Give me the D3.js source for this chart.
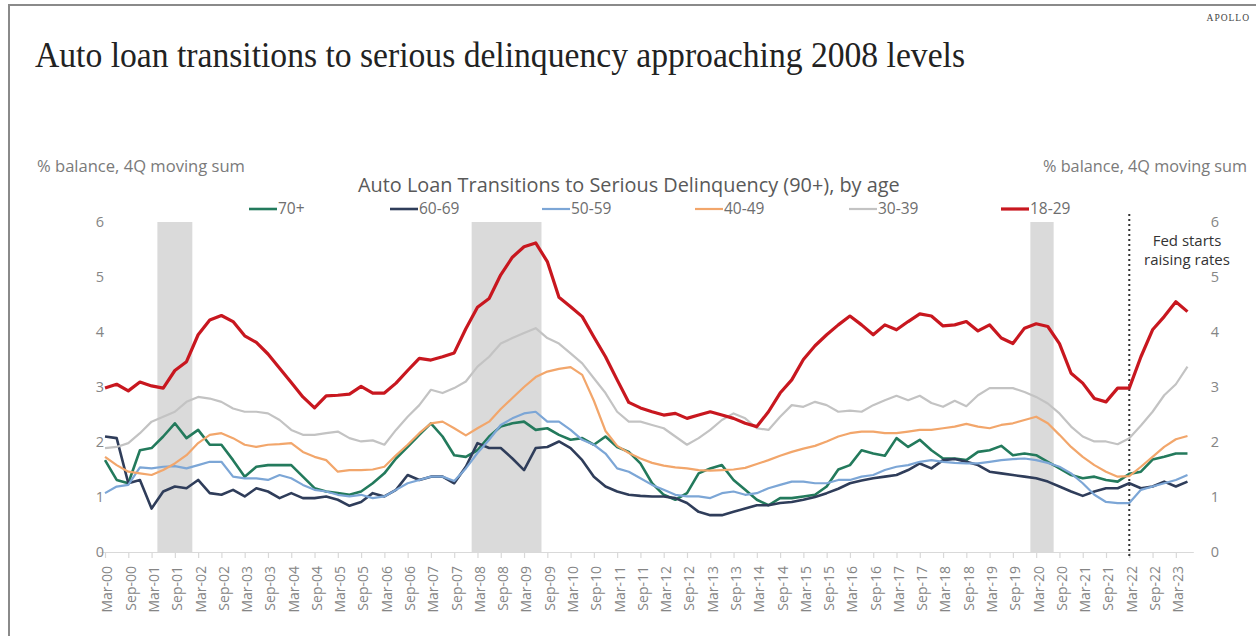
<!DOCTYPE html>
<html>
<head>
<meta charset="utf-8">
<script src="https://cdn.jsdelivr.net/npm/d3@7"></script>
<style>
  html, body { margin: 0; padding: 0; background: #ffffff; }
  svg { display: block; }
</style>
</head>
<body>
<svg id="chart" width="1256" height="636"></svg>
<script>
// ---- Categories: quarterly observations, Q1 2000 through Q2 2023 ----
const months = ["Mar", "Jun", "Sep", "Dec"];
const quarters = [];
for (let yr = 2000; yr <= 2023; yr++) {
  for (const m of months) {
    quarters.push(m + "-" + String(yr % 100).padStart(2, "0"));
  }
}
quarters.length = 94;

// ---- Series: % of balance transitioning into 90+ delinquency, 4Q moving sum ----
const age70plus = [1.67,1.31,1.25,1.85,1.89,2.10,2.34,2.07,2.22,1.95, 1.95,1.67,1.37,1.55,1.58,1.58,1.58,1.37,1.16,1.10,
  1.07,1.04,1.10,1.25,1.43,1.70,1.91,2.13,2.34,2.10, 1.76,1.73,1.85,2.10,2.28,2.34,2.37,2.22,2.25,2.13,
  2.04,2.07,1.95,2.10,1.91,1.82,1.61,1.25,1.04,0.95, 1.07,1.43,1.52,1.58,1.31,1.13,0.95,0.85,0.98,0.98,
  1.01,1.04,1.19,1.50,1.58,1.85,1.79,1.75,2.07,1.91, 2.04,1.85,1.70,1.70,1.67,1.82,1.85,1.93,1.76,1.79,
  1.76,1.64,1.52,1.40,1.34,1.37,1.31,1.28,1.42,1.46, 1.68,1.73,1.79,1.79];
const age60to69 = [2.10,2.07,1.25,1.31,0.79,1.10,1.19,1.16,1.31,1.07, 1.04,1.13,1.01,1.16,1.10,0.98,1.07,0.98,0.98,1.01,
  0.95,0.84,0.91,1.07,1.01,1.13,1.40,1.31,1.37,1.37, 1.25,1.55,1.98,1.89,1.89,1.70,1.49,1.89,1.91,2.01,
  1.89,1.67,1.37,1.19,1.10,1.04,1.02,1.01,1.01,0.98, 0.89,0.73,0.67,0.67,0.73,0.79,0.85,0.85,0.89,0.91,
  0.95,1.00,1.07,1.15,1.25,1.30,1.34,1.37,1.40,1.49, 1.61,1.52,1.67,1.69,1.64,1.58,1.46,1.43,1.40,1.37,
  1.34,1.28,1.19,1.10,1.02,1.10,1.16,1.16,1.25,1.16, 1.19,1.28,1.19,1.28];
const age50to59 = [1.07,1.19,1.22,1.54,1.52,1.55,1.56,1.52,1.58,1.64, 1.64,1.37,1.34,1.34,1.31,1.40,1.34,1.22,1.13,1.10,
  1.04,1.01,1.04,0.98,1.01,1.13,1.25,1.31,1.37,1.37, 1.29,1.52,1.80,2.04,2.31,2.43,2.52,2.55,2.37,2.37,
  2.22,2.04,1.95,1.79,1.52,1.46,1.34,1.22,1.13,1.04, 1.01,1.01,0.98,1.07,1.10,1.04,1.07,1.16,1.22,1.28,
  1.28,1.25,1.25,1.31,1.31,1.37,1.40,1.49,1.55,1.58, 1.64,1.67,1.64,1.62,1.61,1.61,1.64,1.67,1.69,1.70,
  1.67,1.62,1.55,1.43,1.25,1.04,0.91,0.89,0.89,1.13, 1.19,1.25,1.31,1.40];
const age40to49 = [1.73,1.58,1.46,1.43,1.40,1.49,1.61,1.76,1.98,2.13, 2.16,2.07,1.95,1.91,1.95,1.96,1.98,1.82,1.73,1.67,
  1.46,1.49,1.49,1.50,1.55,1.76,1.95,2.16,2.34,2.37, 2.25,2.12,2.25,2.37,2.60,2.80,3.00,3.18,3.28,3.33,
  3.36,3.22,2.75,2.20,1.93,1.80,1.70,1.62,1.57,1.54, 1.52,1.49,1.48,1.49,1.50,1.53,1.60,1.67,1.75,1.82,
  1.88,1.93,2.01,2.10,2.16,2.19,2.19,2.16,2.16,2.19, 2.22,2.22,2.25,2.28,2.33,2.28,2.25,2.31,2.34,2.40,
  2.46,2.34,2.13,1.91,1.73,1.58,1.46,1.37,1.38,1.55, 1.73,1.91,2.05,2.11];
const age30to39 = [1.89,1.91,1.98,2.16,2.37,2.46,2.55,2.73,2.82,2.79, 2.73,2.61,2.55,2.55,2.52,2.40,2.22,2.13,2.13,2.16,
  2.19,2.07,2.01,2.03,1.95,2.22,2.46,2.67,2.95,2.89, 2.98,3.10,3.37,3.55,3.79,3.89,3.98,4.07,3.89,3.79,
  3.61,3.43,3.16,2.89,2.55,2.37,2.37,2.31,2.25,2.10, 1.95,2.07,2.22,2.40,2.52,2.43,2.25,2.22,2.46,2.67,
  2.64,2.73,2.67,2.55,2.57,2.55,2.67,2.76,2.84,2.76, 2.84,2.71,2.64,2.75,2.65,2.85,2.98,2.98,2.98,2.91,
  2.82,2.70,2.52,2.28,2.10,2.01,2.01,1.96,2.07,2.30, 2.55,2.85,3.05,3.37];
const age18to29 = [2.98,3.05,2.93,3.09,3.02,2.98,3.30,3.46,3.95,4.22, 4.30,4.19,3.93,3.81,3.60,3.34,3.08,2.82,2.62,2.84,
  2.85,2.87,3.01,2.89,2.89,3.07,3.30,3.52,3.49,3.55, 3.62,4.06,4.45,4.61,5.04,5.36,5.55,5.62,5.28,4.63,
  4.46,4.28,3.91,3.55,3.13,2.72,2.62,2.55,2.49,2.52, 2.43,2.49,2.55,2.49,2.43,2.34,2.28,2.55,2.89,3.13,
  3.50,3.75,3.95,4.13,4.29,4.13,3.95,4.13,4.04,4.19, 4.33,4.29,4.11,4.13,4.19,4.02,4.13,3.89,3.79,4.07,
  4.15,4.10,3.79,3.25,3.07,2.79,2.73,2.98,2.98,3.55, 4.04,4.28,4.55,4.37];

const seriesNames = ["70+", "60-69", "50-59", "40-49", "30-39", "18-29"];
const seriesValues = [age70plus, age60to69, age50to59, age40to49, age30to39, age18to29];

// Axis ticks
const yTicks = [0, 1, 2, 3, 4, 5, 6];
const xTickLabels = quarters.filter((d, i) => i % 2 === 0);

// Recession periods (first and last quarter) and the first Fed hike
const recessions = [["Jun-01", "Dec-01"], ["Mar-08", "Jun-09"], ["Mar-20", "Jun-20"]];
const fedHikeQuarter = "Mar-22";

// ---- Styling ----
const seriesColors = ["#237a5c", "#2f3d5a", "#7ca6d6", "#f2a66b", "#c3c3c3", "#c8171f"];
const seriesWidths = [2.6, 2.6, 2.2, 2.2, 2.2, 3.2];
const legendX = [249, 390, 542, 695, 849, 1001];
const sansFont = "'Open Sans', 'Noto Sans', sans-serif";

const svg = d3.select("#chart");

const x = d3.scalePoint().domain(quarters).range([99.2, 1193.3]).padding(0.5);
const step = x.step();
const y = d3.scaleLinear().domain([0, 6]).range([552, 222]);

function fitWidth(sel, width) {
  const w = sel.node().getComputedTextLength();
  const fs = parseFloat(sel.attr("font-size"));
  sel.attr("font-size", (fs * width / w).toFixed(2));
}

// Frame edges
svg.append("line").attr("x1", 9).attr("x2", 1256).attr("y1", 5).attr("y2", 5)
  .attr("stroke", "#8a8a8a").attr("stroke-width", 2);
svg.append("line").attr("x1", 9).attr("x2", 9).attr("y1", 4).attr("y2", 636)
  .attr("stroke", "#8a8a8a").attr("stroke-width", 2);

// Headline: a tall, narrow serif setting
svg.append("text")
  .attr("x", 35).attr("y", 67)
  .attr("font-family", "'Liberation Serif', 'DejaVu Serif', serif")
  .attr("font-size", 35).attr("fill", "#222")
  .attr("textLength", 930).attr("lengthAdjust", "spacingAndGlyphs")
  .text("Auto loan transitions to serious delinquency approaching 2008 levels");

svg.append("text")
  .attr("x", 1250).attr("y", 21).attr("text-anchor", "end")
  .attr("font-family", "'Liberation Serif', serif")
  .attr("font-size", 9.5).attr("letter-spacing", 1).attr("fill", "#444")
  .text("APOLLO");

// Axis titles
const leftTitle = svg.append("text").attr("x", 37).attr("y", 172)
  .attr("font-family", sansFont).attr("font-size", 14).attr("fill", "#7a7a7a")
  .text("% balance, 4Q moving sum");
fitWidth(leftTitle, 208);
const rightTitle = svg.append("text").attr("x", 1043).attr("y", 172)
  .attr("font-family", sansFont).attr("font-size", 14).attr("fill", "#7a7a7a")
  .text("% balance, 4Q moving sum");
fitWidth(rightTitle, 204);

// Chart title
const chartTitle = svg.append("text").attr("x", 358).attr("y", 192)
  .attr("font-family", sansFont).attr("font-size", 17).attr("fill", "#595959")
  .text("Auto Loan Transitions to Serious Delinquency (90+), by age");
fitWidth(chartTitle, 542);

// Recession shading
svg.append("g").selectAll("rect").data(recessions).join("rect")
  .attr("x", d => x(d[0]) - step / 2)
  .attr("width", d => x(d[1]) - x(d[0]) + step)
  .attr("y", y(6)).attr("height", y(0) - y(6))
  .attr("fill", "#dadada");

// X axis
const xAxis = d3.axisBottom(x).tickValues(xTickLabels).tickSize(6).tickSizeOuter(0);
const gx = svg.append("g").attr("transform", `translate(0,${y(0)})`).call(xAxis);
gx.select(".domain").attr("stroke", "#d9d9d9").attr("stroke-width", 1.2);
gx.selectAll(".tick line").attr("stroke", "#d9d9d9").attr("stroke-width", 1.2);
gx.selectAll(".tick text")
  .attr("transform", "rotate(-90)")
  .attr("text-anchor", "end")
  .attr("x", -14).attr("y", 2).attr("dy", "0.35em")
  .attr("font-family", sansFont).attr("font-size", 14).attr("fill", "#858585");

// Y axes (left and right share the same scale)
function yAxisAt(xpos) {
  const g = svg.append("g").attr("transform", `translate(${xpos},0)`)
    .call(d3.axisLeft(y).tickValues(yTicks).tickFormat(d3.format("d")).tickSize(0).tickPadding(0));
  g.select(".domain").remove();
  g.selectAll(".tick text").attr("text-anchor", "middle")
    .attr("font-family", sansFont).attr("font-size", 14.5).attr("fill", "#858585");
}
yAxisAt(100);
yAxisAt(1215);

// Fed marker
svg.append("line")
  .attr("x1", x(fedHikeQuarter)).attr("x2", x(fedHikeQuarter))
  .attr("y1", 214).attr("y2", y(0) + 4)
  .attr("stroke", "#333").attr("stroke-width", 2).attr("stroke-dasharray", "2,3");
const fedText = svg.append("text").attr("text-anchor", "middle")
  .attr("font-family", sansFont).attr("font-size", 15).attr("fill", "#333");
fedText.append("tspan").attr("x", 1187).attr("y", 246).text("Fed starts");
fedText.append("tspan").attr("x", 1187).attr("y", 265).text("raising rates");

// Lines
const line = d3.line().x((d, i) => x(quarters[i])).y(d => y(d)).curve(d3.curveLinear);
svg.append("g").selectAll("path").data(seriesValues).join("path")
  .attr("d", d => line(d))
  .attr("fill", "none")
  .attr("stroke", (d, i) => seriesColors[i])
  .attr("stroke-width", (d, i) => seriesWidths[i])
  .attr("stroke-linejoin", "round");

// Legend
const legend = svg.append("g").selectAll("g").data(seriesNames).join("g")
  .attr("transform", (d, i) => `translate(${legendX[i]},209)`);
legend.append("line").attr("x1", 0).attr("x2", 28).attr("y1", 0).attr("y2", 0)
  .attr("stroke", (d, i) => seriesColors[i])
  .attr("stroke-width", (d, i) => seriesWidths[i]);
legend.append("text").attr("x", 29).attr("y", 0).attr("dy", "0.35em")
  .attr("font-family", sansFont).attr("font-size", 15.5).attr("fill", "#6e6e6e")
  .text(d => d);
</script>
</body>
</html>
